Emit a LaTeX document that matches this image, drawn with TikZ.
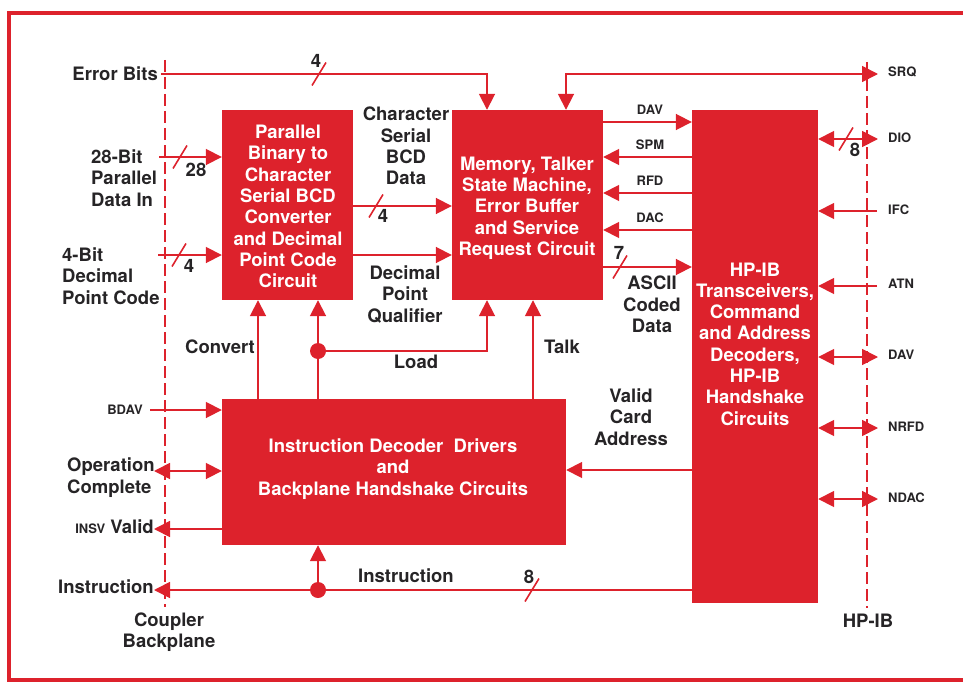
\documentclass[tikz,border=0pt]{standalone}
\usepackage{fontspec}
\setmainfont{TeX Gyre Heros}
\usetikzlibrary{arrows.meta}
\definecolor{hpred}{RGB}{221,34,44}
\definecolor{ink}{RGB}{38,36,38}
\newcommand\bigf{\fontsize{18.5}{21.3}\selectfont\bfseries}
\newcommand\smallf{\fontsize{13}{15}\selectfont\bfseries}
\newcommand\busslash[1]{\draw[slashline] (#1) ++(-7,11.5) -- ++(14,-23);}
\tikzset{
  sig/.style={draw=hpred, line width=1.8pt},
  dashline/.style={draw=hpred, line width=1.8pt, dash pattern=on 12pt off 5pt},
  slashline/.style={draw=hpred, line width=1.6pt},
  box/.style={fill=hpred, draw=none, inner sep=0pt},
  boxtext/.style={text=white, font=\bigf, align=center, inner sep=0pt},
  lbl/.style={text=ink, font=\bigf, align=center, inner sep=0pt},
  sml/.style={text=ink, font=\smallf, inner sep=0pt},
  dotnode/.style={circle, fill=hpred, minimum size=16pt, inner sep=0pt},
}
\begin{document}
\begin{tikzpicture}[x={(1pt,0)}, y={(0,-1pt)}, >={Triangle[length=16pt,width=16pt]}]
\useasboundingbox (0,0) rectangle (963,682);
% frame
\draw[hpred, line width=4pt] (980,13) -- (9,13) -- (9,680) -- (980,680);

% boxes
\node[box, minimum width=131pt, minimum height=190pt] (A) at (287.5,205) {};
\node[box, minimum width=151pt, minimum height=190pt] (B) at (527.5,205) {};
\node[box, minimum width=126pt, minimum height=493pt] (C) at (755,356.5) {};
\node[box, minimum width=344pt, minimum height=146pt] (D) at (394,472) {};
\node[boxtext] (At) at (288,206.5) {Parallel\\Binary to\\Character\\Serial BCD\\Converter\\and Decimal\\Point Code\\Circuit};
\node[boxtext] (Bt) at (527,208) {Memory, Talker\\State Machine,\\Error Buffer\\and Service\\Request Circuit};
\node[boxtext] (Ct) at (755,344) {HP-IB\\Transceivers,\\Command\\and Address\\Decoders,\\HP-IB\\Handshake\\Circuits};
\node[boxtext] (Dt) at (393,469) {Instruction Decoder\ \ Drivers\\and\\Backplane Handshake Circuits};

% dashed boundaries
\coordinate (cbT) at (165,60); \coordinate (cbB) at (165,607);
\coordinate (hbT) at (867,62); \coordinate (hbB) at (867,608);
\draw[dashline] (cbT) -- (cbB);
\draw[dashline] (hbT) -- (hbB);

% error bits
\coordinate (ebL) at (161,74);
\draw[sig,->] (ebL) -| ([xshift=-40.5pt]B.north);
\coordinate (s1) at (319,74); \busslash{s1}
\node[lbl] (n4a) at (316,61) {4};
\node[lbl, anchor=east] (ebT) at (158,74) {Error Bits};

% SRQ
\coordinate (srqR) at (878,74);
\draw[sig,<->] ([xshift=38.5pt]B.north) |- (srqR);

% left inputs
\coordinate (in28) at (159,157);
\draw[sig,->] (in28) -- (in28 -| A.west);
\coordinate (s2) at (180,157); \busslash{s2}
\node[lbl] (n28) at (196,170) {28};
\node[lbl, align=left, anchor=west] (t28) at (91,178) {28-Bit\\Parallel\\Data In};
\coordinate (in4) at (158,255);
\draw[sig,->] (in4) -- (in4 -| A.west);
\coordinate (s3) at (179,255); \busslash{s3}
\node[lbl] (n4b) at (189,266) {4};
\node[lbl, align=left, anchor=west] (t4) at (62,276) {4-Bit\\Decimal\\Point Code};

% A -> B
\coordinate (yBCD) at (0,206);
\draw[sig,->] (yBCD -| A.east) -- (yBCD -| B.west);
\coordinate (s4) at (376,206); \busslash{s4}
\node[lbl] (n4c) at (383,216) {4};
\node[lbl] (tBCD) at (406,146) {Character\\Serial\\BCD\\Data};
\coordinate (yDPQ) at (0,255);
\draw[sig,->] (yDPQ -| A.east) -- (yDPQ -| B.west);
\node[lbl] (tDPQ) at (405,294.5) {Decimal\\Point\\Qualifier};

% B <-> C
\coordinate (yDAV) at (0,122);
\draw[sig,->] (yDAV -| B.east) -- (yDAV -| C.west);
\node[sml] (tDAV) at (650,110) {DAV};
\coordinate (ySPM) at (0,157);
\draw[sig,->] (ySPM -| C.west) -- (ySPM -| B.east);
\node[sml] (tSPM) at (650,145) {SPM};
\coordinate (yRFD) at (0,193);
\draw[sig,->] (yRFD -| C.west) -- (yRFD -| B.east);
\node[sml] (tRFD) at (650,181) {RFD};
\coordinate (yDAC) at (0,230);
\draw[sig,->] (yDAC -| C.west) -- (yDAC -| B.east);
\node[sml] (tDAC) at (650,218) {DAC};
\coordinate (yASC) at (0,267);
\draw[sig,->] (yASC -| B.east) -- (yASC -| C.west);
\coordinate (s5) at (620,267); \busslash{s5}
\node[lbl] (n7) at (619,253) {7};
\node[lbl] (tASC) at (652,304.5) {ASCII\\Coded\\Data};

% right side bus
\coordinate (dioR) at (878,139);
\draw[sig,<->] (dioR -| C.east) -- (dioR);
\coordinate (s6) at (846,139); \busslash{s6}
\node[lbl] (n8a) at (855,150) {8};
\coordinate (ifcR) at (877,211);
\draw[sig,->] (ifcR) -- (ifcR -| C.east);
\coordinate (atnR) at (877,286);
\draw[sig,->] (atnR) -- (atnR -| C.east);
\coordinate (davR) at (878,357);
\draw[sig,<->] (davR -| C.east) -- (davR);
\coordinate (nrfdR) at (878,428);
\draw[sig,<->] (nrfdR -| C.east) -- (nrfdR);
\coordinate (ndacR) at (878,499);
\draw[sig,<->] (ndacR -| C.east) -- (ndacR);
\node[sml, anchor=west] (tSRQ) at (888,72) {SRQ};
\node[sml, anchor=west] (tDIO) at (888,138) {DIO};
\node[sml, anchor=west] (tIFC) at (888,210) {IFC};
\node[sml, anchor=west] (tATN) at (888,284) {ATN};
\node[sml, anchor=west] (tDAV2) at (888,355) {DAV};
\node[sml, anchor=west] (tNRFD) at (888,427) {NRFD};
\node[sml, anchor=west] (tNDAC) at (888,498) {NDAC};

% D -> A, B
\coordinate (xCv) at (258,0);
\draw[sig,->] (xCv |- D.north) -- (xCv |- A.south);
\node[lbl, anchor=east] (tCv) at (255,347) {Convert};
\node[dotnode] (ld) at (318,351) {};
\draw[sig] (ld |- D.north) -- (ld);
\draw[sig,->] (ld) -- (ld |- A.south);
\coordinate (xLd) at (487,0);
\draw[sig,->] (ld) -| (xLd |- B.south);
\node[lbl] (tLd) at (416,362) {Load};
\coordinate (xTk) at (533,0);
\draw[sig,->] (xTk |- D.north) -- (xTk |- B.south);
\node[lbl, anchor=west] (tTk) at (544,347) {Talk};

% left of D
\coordinate (bdav) at (150,410);
\draw[sig,->] (bdav) -- (bdav -| D.west);
\node[sml, anchor=east] (tBDAV) at (143,410) {BDAV};
\coordinate (opc) at (154,471);
\draw[sig,<->] (opc) -- (opc -| D.west);
\node[lbl, align=left, anchor=west] (tOpc) at (67,477.5) {Operation\\Complete};
\coordinate (insv) at (154,529);
\draw[sig,->] (insv -| D.west) -- (insv);
\node[lbl, anchor=east] (tInsv) at (154,527) {{\smallf INSV} Valid};

% valid card address
\coordinate (yVca) at (0,470);
\draw[sig,->] (yVca -| C.west) -- (yVca -| D.east);
\node[lbl] (tVca) at (631,417) {Valid\\Card\\Address};

% instruction bus
\coordinate (instL) at (154,590);
\node[dotnode] (idot) at (318,590) {};
\draw[sig] (instL -| C.west) -- (idot);
\draw[sig,->] (idot) -- (instL);
\draw[sig,->] (idot) -- (idot |- D.south);
\coordinate (s7) at (532,590); \busslash{s7}
\node[lbl] (n8b) at (529,577) {8};
\node[lbl] (tIns) at (406,576) {Instruction};
\node[lbl, anchor=east] (tInsL) at (154,587) {Instruction};

% bottom labels
\node[lbl] (tCB) at (169,632) {Coupler\\Backplane};
\node[lbl] (tHP) at (868,621) {HP-IB};
\end{tikzpicture}
\end{document}
